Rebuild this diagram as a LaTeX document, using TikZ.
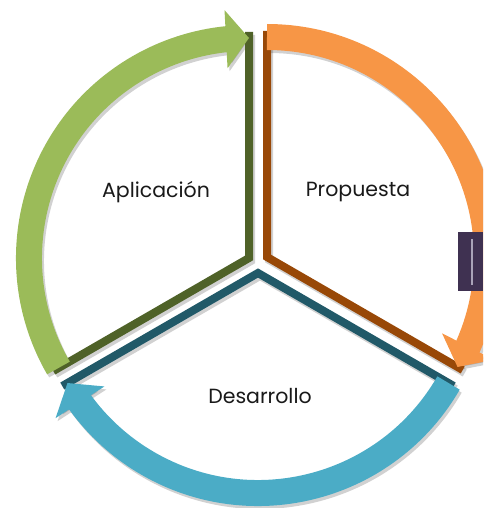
\documentclass[tikz,border=0pt]{standalone}
\usepackage{fontspec}
\setmainfont{Poppins}
\usetikzlibrary{arrows.meta,bending}

\definecolor{aplarc}{HTML}{9BBB59}
\definecolor{aplline}{HTML}{4F6228}
\definecolor{prparc}{HTML}{F79646}
\definecolor{prpline}{HTML}{984807}
\definecolor{desarc}{HTML}{4BACC6}
\definecolor{desline}{HTML}{215968}
\definecolor{boxcol}{HTML}{3F3151}
\definecolor{boxline}{HTML}{A9A3B8}

\begin{document}
\begin{tikzpicture}[x=1pt,y=1pt,
    wedge/.style={line width=8pt,line join=miter},
    ring/.style={line width=26pt,-{Triangle[width=57pt,length=23pt]}},
    shade/.style={draw=black,opacity=0.18,transform canvas={shift={(2pt,-3pt)}}},
    lbl/.style={font=\fontsize{20.5}{24}\selectfont,text=black!90}]
    \useasboundingbox (0,0) rectangle (483,-508);
    \clip (0,0) rectangle (483,-508);
    \coordinate (va) at (249,-258);
    \coordinate (vp) at (267,-257);
    \coordinate (vd) at (258,-273);

    % shadows
    \path[draw,wedge,shade] (va) ++(90:226) -- (va) -- +(210:226);
    \path[draw,wedge,shade] (vp) ++(90:226) -- (vp) -- +(330:226);
    \path[draw,wedge,shade] (vd) ++(210:226) -- (vd) -- +(330:226);
    \path[draw,ring,shade] (va) ++(210:220) arc[start angle=210,end angle=90,radius=220];
    \path[draw,ring,shade] (vp) ++(90:220) arc[start angle=90,end angle=-30,radius=220];
    \path[draw,ring,shade] (vd) ++(-30:220) arc[start angle=-30,end angle=-150,radius=220];

    % wedge edges
    \path[draw,wedge,color=aplline] (va) ++(90:226) -- (va) -- +(210:226);
    \path[draw,wedge,color=prpline] (vp) ++(90:226) -- (vp) -- +(330:226);
    \path[draw,wedge,color=desline] (vd) ++(210:226) -- (vd) -- +(330:226);

    % arrows
    \path[draw,ring,color=aplarc] (va) ++(210:220) arc[start angle=210,end angle=90,radius=220];
    \path[draw,ring,color=prparc] (vp) ++(90:220) arc[start angle=90,end angle=-30,radius=220];
    \path[draw,ring,color=desarc] (vd) ++(-30:220) arc[start angle=-30,end angle=-150,radius=220];

    % labels
    \node[lbl] (apl) at (156,-192) {Aplicación};
    \node[lbl] (prp) at (358,-192) {Propuesta};
    \node[lbl] (des) at (260,-396) {Desarrollo};

    % box at the edge
    \fill[boxcol] (458,-232) rectangle (483,-291);
    \path[draw,line width=2pt,color=boxline] (472,-239) -- (472,-285);
\end{tikzpicture}
\end{document}
